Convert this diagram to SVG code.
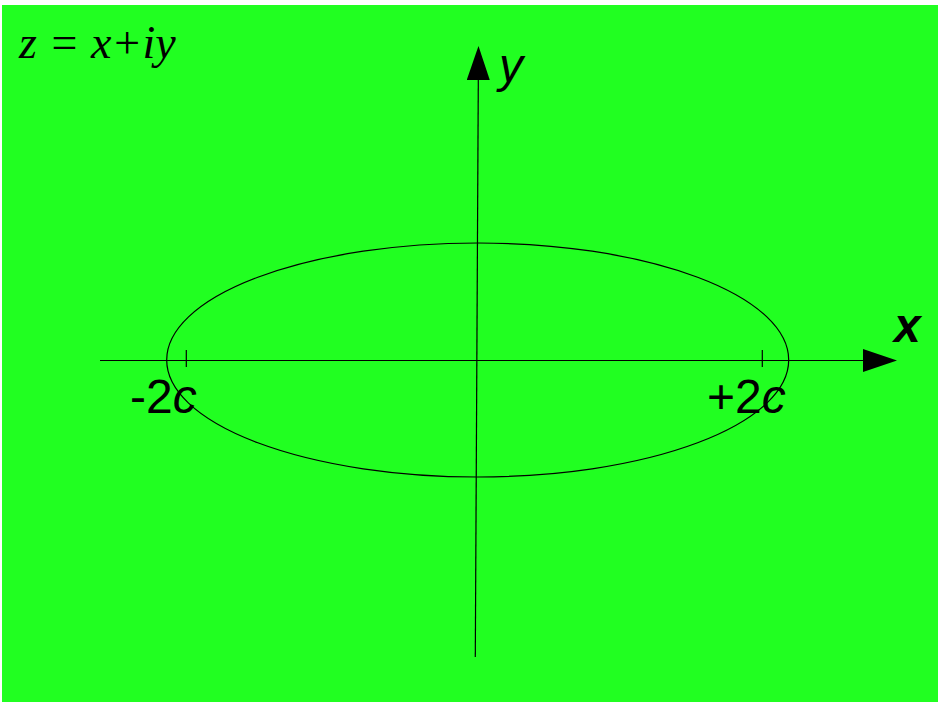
<svg xmlns="http://www.w3.org/2000/svg" width="939" height="704" viewBox="0 0 939 704">
<style>
.ax{stroke:#000;stroke-width:1.2;fill:none}
.lbl{font-family:"Liberation Sans",Arial,sans-serif;font-size:48px;fill:#000}
.it{font-style:italic}
</style>
<defs>
<marker id="arr" viewBox="0 0 34 23" refX="0" refY="11.5" markerWidth="34" markerHeight="23" markerUnits="userSpaceOnUse" orient="auto">
<path d="M0,0 L34,11.5 L0,23 Z" fill="#000"/>
</marker>
</defs>
<rect x="2" y="5" width="936" height="697" fill="#21ff21"/>
<g id="ellipse"><ellipse cx="477.7" cy="360" rx="311" ry="117" class="ax" stroke-width="1"/></g>
<g id="connectors">
<line x1="100" y1="360.5" x2="863" y2="360.5" class="ax" marker-end="url(#arr)"/>
<line x1="475.3" y1="657" x2="478.3" y2="80" class="ax" marker-end="url(#arr)"/>
<line x1="186.3" y1="350" x2="186.3" y2="367" class="ax"/>
<line x1="762.3" y1="350" x2="762.3" y2="367" class="ax"/>
</g>
<g id="labels">
<text x="19" y="58" style="font-family:'Liberation Serif','Times New Roman',serif;font-style:italic;font-size:46px">z = x+iy</text>
<text x="499" y="82" class="lbl it">y</text>
<text x="894" y="342" class="lbl it" font-weight="bold">x</text>
<text x="130" y="413" class="lbl">-2<tspan class="it">c</tspan></text>
<text x="707" y="413" class="lbl">+2<tspan class="it">c</tspan></text>
</g>
</svg>
